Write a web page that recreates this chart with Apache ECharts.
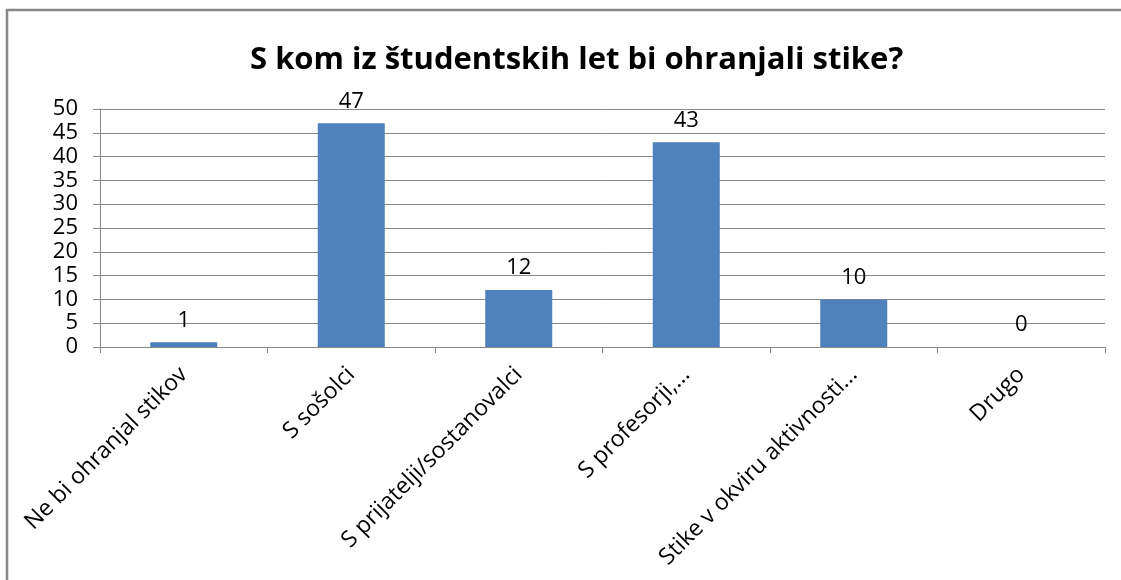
<!DOCTYPE html>
<html>
<head>
<meta charset="utf-8">
<script src="https://cdn.jsdelivr.net/npm/echarts@6/dist/echarts.min.js"></script>
<style>
  html, body { margin: 0; padding: 0; background: #fff; }
  #chart { width: 1121px; height: 580px; }
</style>
</head>
<body>
<div id="chart"></div>
<script>
/* S kom iz študentskih let bi ohranjali stike? */

const categories = [
    'Ne bi ohranjal stikov',
    'S sošolci',
    'S prijatelji/sostanovalci',
    'S profesorji,...',
    'Stike v okviru aktivnosti...',
    'Drugo'
];
const counts = [1, 47, 12, 43, 10, 0];
const yTicks = { min: 0, max: 50, interval: 5 };

const fontName = '"Open Sans", Lato, sans-serif';
const gray = '#888888';

let option = {
    backgroundColor: '#ffffff',
    animation: false,
    title: {
        text: 'S kom iz študentskih let bi ohranjali stike?',
        left: 245,
        top: 40,
        textStyle: { fontFamily: fontName, fontSize: 31, fontWeight: 'bold', color: '#000' }
    },
    grid: { left: 100, right: 16, top: 109, bottom: 233 },
    xAxis: {
        type: 'category',
        data: categories,
        axisLine: { show: true, lineStyle: { color: gray, width: 1 } },
        axisTick: { show: true, length: 6, alignWithLabel: false, lineStyle: { color: gray } },
        axisLabel: {
            rotate: 45,
            interval: 0,
            margin: 24,
            color: '#000',
            fontFamily: fontName,
            fontSize: 23
        }
    },
    yAxis: {
        type: 'value',
        min: yTicks.min,
        max: yTicks.max,
        interval: yTicks.interval,
        axisLine: { show: true, lineStyle: { color: gray, width: 1 } },
        axisTick: { show: true, length: 7, lineStyle: { color: gray } },
        splitLine: { show: true, lineStyle: { color: gray, width: 1 } },
        axisLabel: { margin: 22, color: '#000', fontFamily: fontName, fontSize: 22 }
    },
    series: [{
        type: 'bar',
        data: counts,
        barCategoryGap: '60%',
        itemStyle: { color: '#4F81BD' },
        label: {
            show: true,
            position: 'top',
            distance: 11,
            color: '#000',
            fontFamily: fontName,
            fontSize: 22
        }
    }],
    graphic: [{
        type: 'rect',
        shape: { x: 7, y: 10, width: 1300, height: 800 },
        style: { fill: 'none', stroke: gray, lineWidth: 2.5 },
        silent: true
    }]
};

let chart = echarts.init(document.getElementById('chart'));
chart.setOption(option);
</script>
</body>
</html>
